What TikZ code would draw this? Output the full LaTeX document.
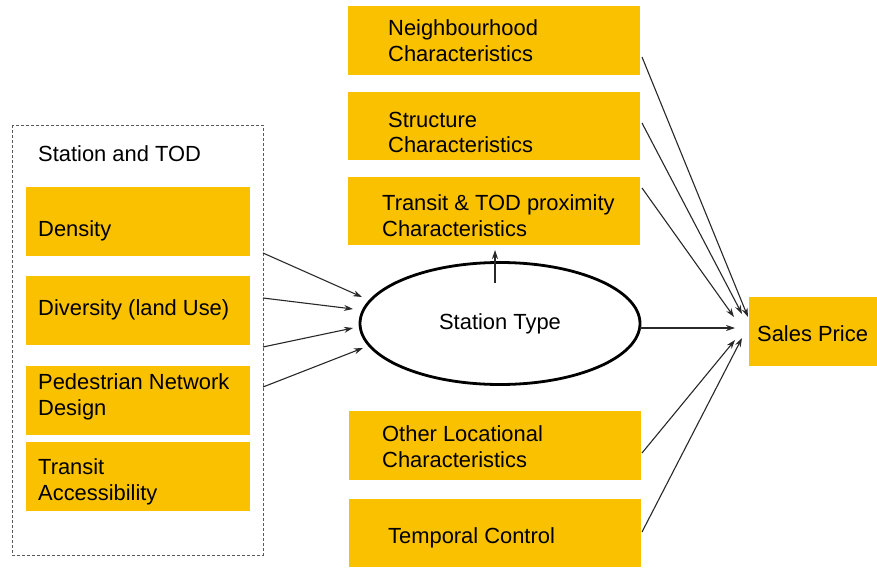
\documentclass[tikz,border=0pt]{standalone}
\usepackage{fontspec}
\setmainfont{Liberation Sans}
\usetikzlibrary{shapes.geometric,arrows.meta}
\definecolor{gold}{RGB}{250,193,0}
\definecolor{arrowgray}{RGB}{40,40,40}
\begin{document}
\begin{tikzpicture}[x=1pt,y=-1pt,
  txt/.style={font=\fontsize{21.9}{25.5}\selectfont, text=black, inner sep=0pt, anchor=west, align=left},
  ybox/.style={fill=gold, draw=none},
  conn/.style={draw=arrowgray, line width=1.1pt, -{Stealth[length=9pt,width=6pt]}}
]
\useasboundingbox (0,0) rectangle (877,567);
% dashed group
\draw[draw=gray!70!black, line width=0.9pt, dash pattern=on 3pt off 2pt] (12,125) rectangle (263,555);
\node[txt] (title) at (38,154) {Station and TOD};
% left boxes
\fill[ybox] (26,187) rectangle (250,256);
\node[txt] (dens) at (38,231) {Density};
\fill[ybox] (26,276) rectangle (250,345);
\node[txt] (div) at (38,310) {Diversity (land Use)};
\fill[ybox] (26,366) rectangle (250,435);
\node[txt] (ped) at (38,397) {Pedestrian Network\\Design};
\fill[ybox] (26,442) rectangle (250,511);
\node[txt] (tra) at (38,482) {Transit\\Accessibility};
% right boxes
\fill[ybox] (348,6) rectangle (640,75);
\node[txt] (nb) at (388,40.5) {Neighbourhood\\Characteristics};
\fill[ybox] (348,92) rectangle (640,160);
\node[txt] (st) at (388,132.5) {Structure\\Characteristics};
\fill[ybox] (348,177) rectangle (640,245);
\node[txt] (tt) at (382,215.5) {Transit \& TOD proximity\\Characteristics};
\fill[ybox] (349,411) rectangle (641,480);
\node[txt] (ol) at (382,446.5) {Other Locational\\Characteristics};
\fill[ybox] (349,499) rectangle (641,567);
\node[txt] (tc) at (388,537.5) {Temporal Control};
\fill[ybox] (749,297) rectangle (877,366);
\node[txt] (sp) at (757,333.5) {Sales Price};
% ellipse
\node[ellipse, draw=black, line width=2.8pt, minimum width=280pt, minimum height=122pt, inner sep=0pt, font=\fontsize{21.9}{25.5}\selectfont] (stype) at (500,323.5) {Station Type};
% connector points
\coordinate (a1) at (263,253); \coordinate (b1) at (362,297);
\coordinate (a2) at (263,298); \coordinate (b2) at (353,309);
\coordinate (a3) at (263,347); \coordinate (b3) at (353,328);
\coordinate (a4) at (263,387); \coordinate (b4) at (363,348);
\draw[conn] (a1) -- (b1);
\draw[conn] (a2) -- (b2);
\draw[conn] (a3) -- (b3);
\draw[conn] (a4) -- (b4);
\coordinate (u0) at (495,283); \coordinate (u1) at (495,250);
\draw[conn] (u0) -- (u1);
\coordinate (r0) at (640,328); \coordinate (r1) at (735,328);
\draw[conn] (r0) -- (r1);
\coordinate (n0) at (642,57); \coordinate (n1) at (748,317);
\coordinate (s0) at (642,123); \coordinate (s1) at (742,314);
\coordinate (t0) at (642,188); \coordinate (t1) at (734,317);
\coordinate (o0) at (642,453); \coordinate (o1) at (735,340);
\coordinate (p0) at (642,532); \coordinate (p1) at (742,338);
\draw[conn] (n0) -- (n1);
\draw[conn] (s0) -- (s1);
\draw[conn] (t0) -- (t1);
\draw[conn] (o0) -- (o1);
\draw[conn] (p0) -- (p1);
\end{tikzpicture}
\end{document}
